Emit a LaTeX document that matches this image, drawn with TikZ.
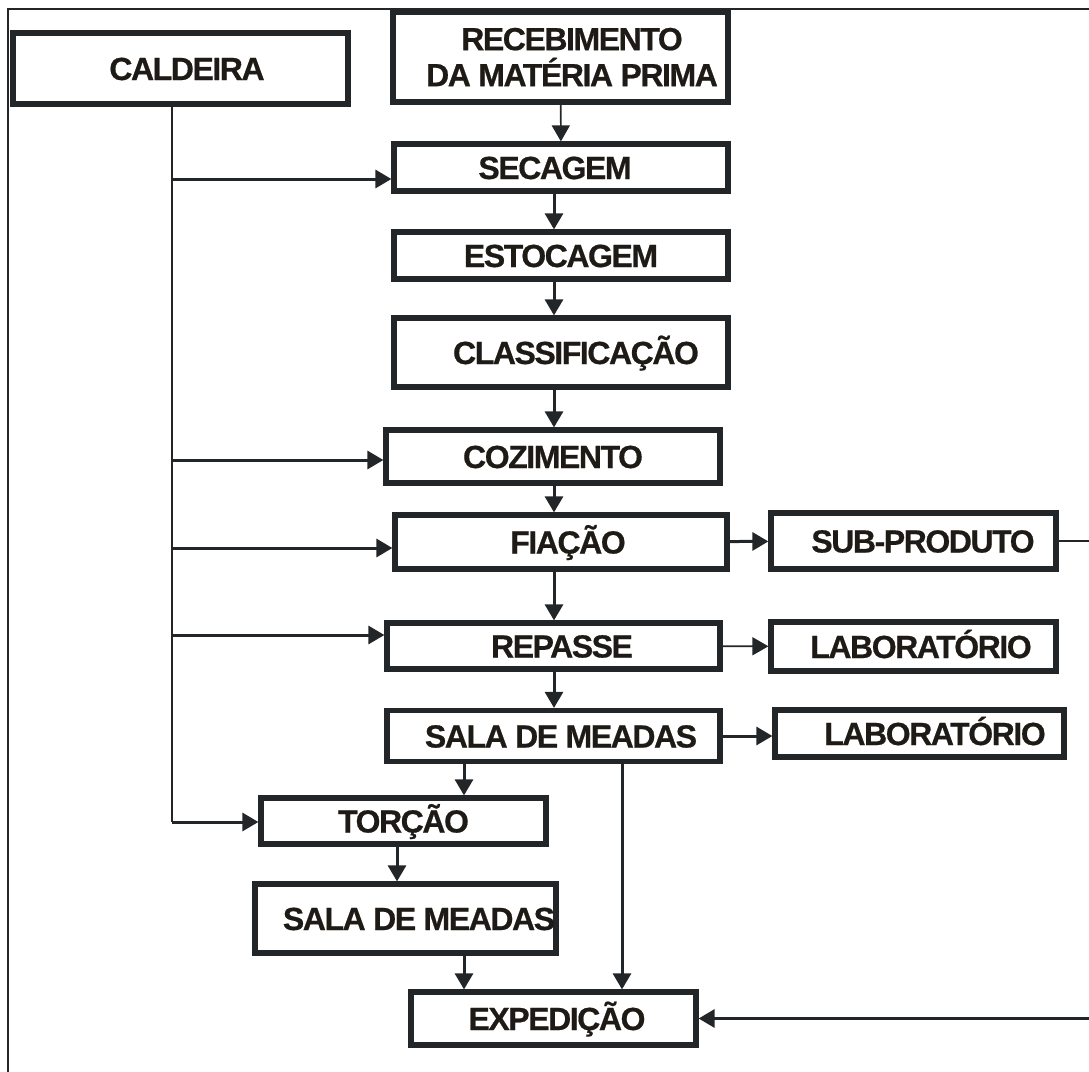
\documentclass[tikz,border=0pt]{standalone}
\usepackage{fontspec}
\setmainfont{Liberation Sans}
\newfontfamily\stagefont{Liberation Sans}[LetterSpace=-4.5, FakeBold=0.6]
\usetikzlibrary{arrows.meta, positioning}
\definecolor{cInk}{RGB}{35,38,40}
\definecolor{cText}{RGB}{30,26,22}
\tikzset{
    stage/.style={rectangle, draw=cInk, line width=2.6pt, inner sep=0pt, text=cText,
        font=\stagefont\fontsize{16}{18}\selectfont\bfseries, text height=11.5pt, text depth=0pt},
    flow/.style={-{Triangle[length=8pt, width=9pt]}, line width=1.5pt, draw=cInk},
    feed/.style={line width=1pt, draw=cInk},
}

\begin{document}
\begin{tikzpicture}[x=0.5pt, y=-0.5pt]
    \clip (0,0) rectangle (1089,1072);
    \draw[line width=1.2pt, cInk] (8,9) rectangle (1120,1100);

    % stages
    \node[stage, minimum width=167.5pt, minimum height=35.5pt] (cal) at (180.5,68.5) {\hspace*{6.5pt}CALDEIRA};
    \node[stage, minimum width=167.5pt, minimum height=45pt, align=center, text height=, text depth=] (rec) at (560.5,57)
        {\hspace*{11.5pt}RECEBIMENTO\\\hspace*{11.5pt}DA MATÉRIA PRIMA};
    \node[stage, minimum width=167pt, minimum height=23.5pt] (sec) at (561,167.5) {SECAGEM\hspace*{6pt}};
    \node[stage, minimum width=167pt, minimum height=23.5pt] (est) at (561,255.5) {ESTOCAGEM};
    \node[stage, minimum width=167pt, minimum height=34.5pt] (cla) at (561,352.5) {\hspace*{15pt}CLASSIFICAÇÃO};
    \node[stage, minimum width=167pt, minimum height=26.5pt] (coz) at (553,456.5) {COZIMENTO};
    \node[stage, minimum width=166pt, minimum height=27pt] (fia) at (561,542) {\hspace*{7pt}FIAÇÃO};
    \node[stage, minimum width=166.5pt, minimum height=23pt] (rep) at (553.5,646) {\hspace*{8.5pt}REPASSE};
    \node[stage, minimum width=166.5pt, minimum height=25.5pt] (sal) at (553.5,736) {\hspace*{7.5pt}SALA DE MEADAS};
    \node[stage, minimum width=142.5pt, minimum height=23pt] (tor) at (403.5,821) {TORÇÃO};
    \node[stage, minimum width=150.5pt, minimum height=34.5pt] (sal2) at (405.5,918.5) {\hspace*{13.5pt}SALA DE MEADAS};
    \node[stage, minimum width=142.5pt, minimum height=26.5pt] (exp) at (553.5,1018.5) {\hspace*{3.5pt}EXPEDIÇÃO};

    % side stages
    \node[stage, minimum width=142.5pt, minimum height=28pt] (sub) at (913.5,541) {\hspace*{9.5pt}SUB-PRODUTO};
    \node[stage, minimum width=142.5pt, minimum height=24.5pt] (lab1) at (913.5,646.5) {\hspace*{7.5pt}LABORATÓRIO};
    \node[stage, minimum width=144.5pt, minimum height=23.5pt] (lab2) at (919.5,733.5) {\hspace*{15.5pt}LABORATÓRIO};

    % steam line from the boiler
    \coordinate (trunk) at (172,822);
    \coordinate (bSec) at (172,179);
    \coordinate (bCoz) at (172,460);
    \coordinate (bFia) at (172,548);
    \coordinate (bRep) at (172,635);
    \draw[feed] (cal.south -| trunk) -- (trunk);
    \draw[flow] (bSec) -- (bSec -| sec.west);
    \draw[flow] (bCoz) -- (bCoz -| coz.west);
    \draw[flow] (bFia) -- (bFia -| fia.west);
    \draw[flow] (bRep) -- (bRep -| rep.west);
    \draw[flow] (trunk) -- (trunk -| tor.west);

    % main flow
    \coordinate (col) at (554,0);
    \draw[flow, line width=0.8pt] (rec) -- (sec);
    \foreach \a/\b in {sec/est, est/cla, cla/coz, coz/fia, fia/rep, rep/sal}
        \draw[flow] (\a.south -| col) -- (\b.north -| col);
    \draw[flow] (fia) -- (sub);
    \draw[flow, line width=0.8pt] (rep) -- (lab1);
    \draw[flow] (sal.east) -- (sal.east -| lab2.west);

    % lower branch
    \coordinate (tx) at (464,0);
    \coordinate (tz) at (397,0);
    \coordinate (ex) at (622,0);
    \draw[flow] (sal.south -| tx) -- (tor.north -| tx);
    \draw[flow] (tor.south -| tz) -- (sal2.north -| tz);
    \draw[flow] (sal2.south -| tx) -- (exp.north -| tx);
    \draw[flow] (sal.south -| ex) -- (exp.north -| ex);

    % by-product return
    \coordinate (rim) at (1110,541);
    \draw[feed, line width=0.7pt] (sub.east) -- (rim) -- (rim |- exp.east);
    \draw[flow] (rim |- exp.east) -- (exp.east);
\end{tikzpicture}
\end{document}
